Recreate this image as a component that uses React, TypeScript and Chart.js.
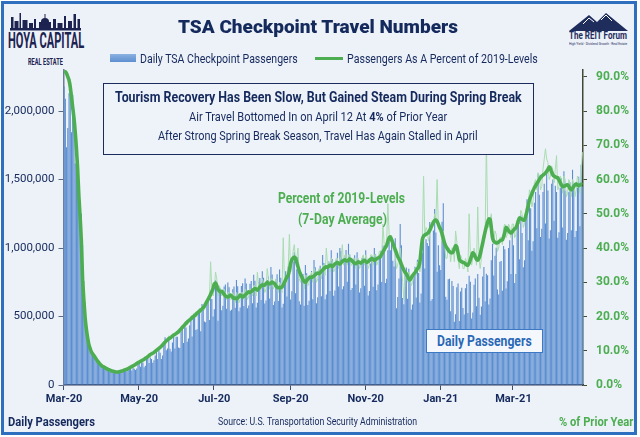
import React, { useEffect, useLayoutEffect, useRef, useState } from 'react';
import { Chart, registerables } from 'chart.js';
Chart.register(...registerables);

// ---------------- DATA ----------------
const START_YEAR = 2020;
const START_MONTH = 2; // March (0-based)
const MONTH_NAMES = ['Jan', 'Feb', 'Mar', 'Apr', 'May', 'Jun', 'Jul', 'Aug', 'Sep', 'Oct', 'Nov', 'Dec'];
const LABELED_MONTHS = [1, 3, 5, 7, 9, 11];

// Daily TSA checkpoint passengers (thousands), Mar 1 2020 ... Apr 26 2021
const DAILY_PASSENGERS_K = [
  2180, 2090, 1736, 1877, 2130, 2199, 1845,
  2120, 1909, 1617, 1703, 1560, 1430, 1209,
  1250, 1020, 760, 600, 480, 400, 330,
  290, 250, 230, 204, 200, 180, 184,
  170, 154, 146, 136, 130, 124, 118,
  122, 108, 97, 104, 95, 109, 94,
  91, 102, 88, 95, 95, 105, 97,
  106, 110, 101, 108, 117, 120, 106,
  128, 119, 109, 120, 154, 171, 134,
  170, 164, 130, 140, 190, 200, 160,
  200, 190, 163, 180, 215, 250, 190,
  253, 235, 190, 215, 318, 348, 254,
  267, 341, 265, 245, 310, 353, 267,
  353, 353, 273, 270, 392, 419, 306,
  442, 420, 316, 339, 436, 470, 354,
  490, 496, 402, 407, 540, 558, 393,
  591, 548, 464, 458, 589, 616, 474,
  634, 628, 500, 554, 764, 719, 470,
  713, 705, 546, 578, 719, 734, 556,
  748, 714, 542, 549, 700, 719, 564,
  767, 721, 538, 566, 722, 743, 577,
  777, 742, 560, 581, 739, 760, 596,
  805, 761, 566, 600, 752, 782, 621,
  831, 783, 595, 617, 766, 793, 631,
  862, 806, 584, 609, 773, 808, 614,
  843, 784, 566, 594, 768, 831, 646,
  864, 830, 625, 685, 901, 969, 670,
  845, 935, 612, 588, 776, 811, 578,
  876, 816, 585, 615, 794, 832, 627,
  912, 860, 596, 640, 844, 870, 648,
  950, 890, 627, 660, 858, 902, 686,
  984, 918, 651, 690, 915, 966, 720,
  1000, 977, 699, 721, 925, 985, 754,
  1032, 953, 693, 709, 919, 948, 734,
  969, 904, 675, 706, 927, 943, 725,
  983, 907, 653, 686, 887, 941, 717,
  1001, 954, 692, 733, 941, 980, 752,
  1019, 976, 745, 776, 984, 1047, 984,
  1047, 908, 865, 1071, 560, 642, 778,
  1176, 1021, 635, 590, 811, 858, 630,
  848, 769, 551, 588, 802, 863, 638,
  915, 818, 603, 668, 964, 1067, 851,
  1065, 1037, 1015, 1191, 616, 628, 1128,
  1285, 1113, 827, 1021, 874, 840, 1192,
  1327, 1063, 645, 622, 772, 776, 538,
  760, 722, 461, 516, 713, 742, 468,
  682, 710, 563, 514, 707, 738, 526,
  797, 754, 486, 529, 732, 778, 575,
  811, 637, 513, 573, 792, 862, 611,
  812, 801, 588, 632, 911, 1032, 800,
  944, 1003, 697, 660, 900, 906, 689,
  1015, 991, 704, 758, 1000, 1056, 810,
  1104, 1020, 745, 810, 1152, 1200, 918,
  1240, 1110, 860, 910, 1240, 1357, 1056,
  1355, 1290, 980, 1050, 1330, 1410, 1145,
  1543, 1390, 1080, 1140, 1410, 1470, 1180,
  1575, 1420, 1070, 1130, 1470, 1500, 1200,
  1455, 1410, 1075, 1115, 1440, 1510, 1150,
  1561, 1420, 1060, 1110, 1410, 1480, 1130,
  1572, 1430, 1080, 1125, 1440, 1520, 1160,
  1608, 1450,
];

// Passengers as a percent of 2019 levels (daily)
const DAILY_PCT = [
  92, 91, 90, 91, 90, 89, 86,
  84, 80, 73, 70, 62, 56, 50,
  44, 36, 28, 22, 17, 14, 12,
  10.5, 9.6, 9.0, 8.5, 8.0, 7.4, 7.0,
  6.5, 6.1, 5.7, 5.4, 5.2, 5.0, 4.8,
  4.6, 4.4, 4.3, 4.1, 4.0, 3.9, 3.8,
  3.7, 3.9, 3.7, 3.9, 4.0, 4.2, 4.3,
  4.5, 4.6, 4.6, 4.9, 5.1, 5.3, 5.5,
  5.8, 5.9, 5.9, 6.4, 6.7, 6.8, 6.9,
  7.4, 7.5, 7.3, 7.7, 8.2, 8.5, 8.5,
  9.2, 9.3, 9.0, 9.4, 10.0, 10.4, 10.2,
  11.0, 11.3, 10.9, 11.5, 12.6, 13.0, 12.7,
  13.3, 14.4, 13.2, 13.5, 14.6, 15.0, 14.5,
  15.6, 15.8, 14.9, 15.4, 17.0, 17.5, 16.6,
  18.4, 18.6, 17.6, 18.0, 19.6, 20.0, 19.1,
  20.8, 21.0, 19.8, 20.2, 22.0, 22.4, 21.0,
  23, 23, 22, 23, 25, 26, 25,
  36, 28, 26, 28, 33, 31, 26,
  29, 28, 26, 27, 28, 27, 25,
  27, 27, 25, 25, 27, 26, 24,
  27, 26, 24, 25, 27, 27, 25,
  28, 27, 25, 26, 28, 28, 26,
  29, 29, 26, 33, 29, 29, 28,
  31, 30, 27, 28, 34, 31, 28,
  31, 31, 28, 29, 31, 30, 27,
  30, 29, 27, 43, 30, 31, 30,
  34, 44, 33, 35, 39, 41, 36,
  37, 40, 31, 30, 32, 31, 28,
  32, 32, 29, 30, 32, 33, 30,
  34, 33, 30, 31, 34, 34, 31,
  35, 35, 32, 40, 35, 36, 33,
  37, 36, 33, 34, 37, 37, 34,
  37, 37, 41, 35, 38, 38, 35,
  38, 38, 35, 35, 37, 37, 34,
  37, 37, 34, 35, 37, 38, 35,
  38, 37, 34, 35, 38, 38, 35,
  38, 38, 35, 36, 39, 39, 37,
  47, 41, 40, 42, 53, 44, 42,
  43, 40, 39, 38, 34, 35, 37,
  40, 36, 30, 25, 31, 32, 30,
  33, 32, 29, 30, 32, 34, 32,
  36, 35, 33, 36, 42, 61, 44,
  46, 45, 42, 44, 46, 48, 47,
  50, 48, 60, 46, 45, 44, 42,
  45, 42, 37, 37, 40, 40, 36,
  40, 40, 36, 45, 42, 37, 34,
  38, 37, 34, 34, 37, 36, 33,
  50, 38, 35, 37, 40, 38, 35,
  52, 37, 34, 37, 41, 44, 43,
  71, 49, 46, 48, 50, 44, 41,
  45, 44, 39, 40, 43, 43, 41,
  46, 47, 43, 44, 47, 46, 43,
  47, 47, 43, 44, 48, 49, 47,
  51, 50, 46, 47, 51, 53, 52,
  57, 56, 52, 54, 59, 60, 57,
  62, 61, 57, 58, 63, 66, 69,
  66, 65, 60, 61, 64, 63, 59,
  63, 67, 57, 58, 61, 60, 56,
  61, 60, 55, 56, 60, 59, 55,
  60, 59, 55, 57, 61, 60, 56,
  62, 68,
];

// Percent of 2019 levels, 7-day average
const AVG7_PCT = [
  91.5, 91.5, 91, 90, 89, 87, 84,
  81, 78, 74, 69, 63, 55, 49,
  42, 31, 25, 20, 16.5, 14, 12,
  10.8, 9.8, 9.2, 8.7, 8.2, 7.6, 7.1,
  6.6, 6.2, 5.8, 5.5, 5.3, 5.1, 4.9,
  4.7, 4.5, 4.4, 4.2, 4.1, 4.0, 3.9,
  3.8, 3.8, 3.8, 3.9, 4.0, 4.1, 4.2,
  4.4, 4.5, 4.6, 4.8, 5.0, 5.2, 5.4,
  5.6, 5.8, 6.0, 6.3, 6.5, 6.7, 6.9,
  7.1, 7.3, 7.5, 7.8, 8.0, 8.3, 8.6,
  8.9, 9.1, 9.3, 9.5, 9.8, 10.1, 10.4,
  10.7, 11.0, 11.3, 11.7, 12.1, 12.5, 12.9,
  13.2, 13.5, 13.7, 14.0, 14.3, 14.6, 14.8,
  15.0, 15.3, 15.6, 16.0, 16.4, 16.8, 17.2,
  17.6, 18.0, 18.4, 18.7, 19.0, 19.3, 19.7,
  20.0, 20.3, 20.6, 21.0, 21.3, 21.6, 21.9,
  22.2, 22.6, 23.1, 23.7, 24.4, 25.0, 25.7,
  26.5, 27.3, 28.2, 29.5, 29.8, 29.0, 27.9,
  27.5, 27.2, 27.4, 27.0, 26.5, 26.0, 25.8,
  25.7, 25.9, 26.3, 26.0, 25.6, 25.3, 25.4,
  25.2, 25.4, 25.8, 26.3, 26.0, 25.7, 25.9,
  26.3, 26.6, 27.0, 27.2, 27.0, 27.3, 27.6,
  27.9, 28.2, 28.0, 27.7, 28.1, 28.6, 29.0,
  29.3, 29.1, 29.2, 29.6, 30.0, 29.7, 29.5,
  29.8, 30.1, 29.8, 29.6, 29.0, 28.6, 28.4,
  28.5, 28.4, 28.6, 29.2, 30.0, 30.8, 31.5,
  32.0, 33.5, 35.5, 36.6, 37.1, 37.4, 37.0,
  35.8, 34.5, 33.3, 32.4, 31.6, 30.8, 30.2,
  30.0, 30.4, 30.9, 31.3, 31.5, 31.4, 31.6,
  31.9, 32.2, 32.6, 32.7, 32.5, 32.8, 33.2,
  33.6, 34.0, 34.3, 34.5, 34.4, 34.7, 35.0,
  34.8, 34.6, 35.0, 35.4, 35.6, 35.8, 35.5,
  35.3, 35.7, 36.1, 36.4, 36.6, 36.3, 36.2,
  36.5, 36.8, 36.6, 36.2, 35.8, 35.6, 35.4,
  35.7, 36.0, 35.8, 35.6, 35.9, 36.2, 36.4,
  36.1, 35.8, 36.0, 36.4, 36.7, 36.9, 36.7,
  36.4, 36.6, 36.9, 37.1, 37.3, 37.6, 38.2,
  38.9, 39.5, 40.2, 40.8, 42.0, 43.0, 43.3,
  42.5, 41.5, 40.5, 39.5, 38.5, 37.5, 36.8,
  36.2, 35.2, 34.3, 33.5, 32.9, 32.5, 31.7,
  31.0, 30.7, 31.3, 31.9, 32.4, 32.8, 33.4,
  34.0, 34.4, 36.0, 39.5, 42.5, 43.5, 43.8,
  44.0, 44.3, 44.6, 45.2, 46.0, 46.8, 47.5,
  48.0, 48.2, 47.8, 47.0, 46.0, 45.4, 44.2,
  42.8, 41.5, 40.6, 40.0, 39.4, 39.0, 38.7,
  38.6, 38.9, 39.8, 40.7, 40.3, 38.5, 36.7,
  36.2, 36.0, 35.8, 35.7, 35.4, 35.1, 35.0,
  35.6, 36.6, 37.7, 38.6, 38.2, 37.4, 36.7,
  36.5, 37.0, 38.2, 39.8, 41.4, 43.2, 44.8,
  46.3, 47.6, 48.5, 48.4, 46.0, 43.0, 42.0,
  41.7, 41.5, 41.5, 41.8, 42.1, 42.3, 42.4,
  43.3, 44.6, 46.0, 45.7, 45.1, 44.6, 44.4,
  44.7, 45.2, 45.6, 45.9, 46.8, 48.0, 48.8,
  48.6, 48.4, 48.2, 48.2, 49.4, 50.8, 52.4,
  54.0, 55.0, 55.9, 56.8, 57.6, 58.2, 58.8,
  59.4, 60.0, 60.6, 61.0, 61.3, 61.6, 61.9,
  62.4, 63.0, 63.7, 63.2, 62.2, 61.4, 61.0,
  60.8, 60.6, 60.5, 59.9, 59.1, 58.4, 57.9,
  58.0, 58.2, 58.4, 58.5, 58.0, 57.3, 57.0,
  57.4, 58.0, 58.5, 58.8, 58.4, 58.2, 58.4,
  58.6, 58.5,
];

const LEFT_MAX_K = 2300;
const LEFT_TICKS_K = [0, 500, 1000, 1500, 2000];
const RIGHT_MAX = 92;
const RIGHT_TICKS = [0, 10, 20, 30, 40, 50, 60, 70, 80, 90];

// Categories: one per day
const CATEGORIES: string[] = DAILY_PASSENGERS_K.map((_, i) => {
  const d = new Date(Date.UTC(START_YEAR, START_MONTH, 1 + i));
  return d.toISOString().slice(0, 10);
});

function tickLabel(i: number): string {
  const c = CATEGORIES[i];
  if (!c) return '';
  const [y, m, d] = c.split('-');
  if (d === '01' && LABELED_MONTHS.includes(+m)) return `${MONTH_NAMES[+m - 1]}-${y.slice(2)}`;
  return '';
}

// ---------------- COLOURS / FONTS ----------------
const NAVY = '#14295c';
const GREEN = '#4dae51';
const FONT = 'Roboto, "Open Sans", sans-serif';

// Text that is horizontally fitted to a target width (condensed look)
function FitText(props: { x: number; cy: number; w: number; size: number; align?: 'left' | 'center' | 'right'; weight?: number; color?: string; children: any }) {
  const { x, cy, w, size, align = 'left', weight = 400, color = NAVY, children } = props;
  const ref = useRef<HTMLSpanElement>(null);
  const [s, setS] = useState(1);
  useLayoutEffect(() => {
    const el = ref.current;
    if (!el) return;
    const nat = el.offsetWidth;
    if (nat > 0) setS(w / nat);
  }, [w, size]);
  const left = align === 'center' ? x - w / 2 : align === 'right' ? x - w : x;
  return (
    <span
      ref={ref}
      style={{
        position: 'absolute', left, top: cy - size * 0.5, whiteSpace: 'nowrap', lineHeight: 1,
        fontFamily: FONT, fontSize: size, fontWeight: weight, color,
        transform: `scaleX(${s})`, transformOrigin: 'left top',
      }}
    >
      {children}
    </span>
  );
}

export default function App() {
  const canvasRef = useRef<HTMLCanvasElement>(null);

  useEffect(() => {
    document.body.style.margin = '0';
    const canvas = canvasRef.current;
    if (!canvas) return;
    const chart = new Chart(canvas, {
      type: 'bar',
      data: {
        labels: CATEGORIES,
        datasets: [
          {
            type: 'line',
            label: 'Passengers As A Percent of 2019-Levels',
            data: AVG7_PCT,
            yAxisID: 'y1',
            borderColor: GREEN,
            borderWidth: 3.6,
            pointRadius: 0,
            tension: 0.2,
            order: 0,
          } as any,
          {
            type: 'line',
            label: 'Daily Percent',
            data: DAILY_PCT,
            yAxisID: 'y1',
            borderColor: '#a9dcb0',
            borderWidth: 1,
            pointRadius: 0,
            tension: 0,
            order: 1,
          } as any,
          {
            type: 'bar',
            label: 'Daily TSA Checkpoint Passengers',
            data: DAILY_PASSENGERS_K,
            yAxisID: 'y',
            backgroundColor: '#5b8ed0',
            borderWidth: 0,
            barPercentage: 0.88,
            categoryPercentage: 1,
            order: 2,
          } as any,
        ],
      },
      options: {
        responsive: false,
        animation: false,
        layout: { padding: { top: 70, left: 0, right: 0, bottom: 0 } },
        plugins: { legend: { display: false }, tooltip: { enabled: false }, title: { display: false } },
        scales: {
          x: {
            type: 'category',
            offset: true,
            grid: {
              display: true, drawOnChartArea: false, drawTicks: true, tickLength: 5, offset: true,
              color: (ctx: any) => (tickLabel(ctx.index) ? '#3d4f6b' : 'rgba(0,0,0,0)'),
            },
            border: { display: true, color: '#2f4063', width: 1.5 },
            ticks: {
              autoSkip: false, maxRotation: 0, minRotation: 0, padding: 3, color: NAVY,
              font: { family: FONT, weight: 'bold', size: 11 },
              callback: (_v: any, i: number) => tickLabel(i),
            },
            afterFit: (s: any) => { s.height = 52; },
          },
          y: {
            position: 'left', min: 0, max: LEFT_MAX_K,
            grid: { drawOnChartArea: false, drawTicks: true, tickLength: 5, color: '#5b6b85' },
            border: { display: true, color: '#6b7c98', width: 1.5 },
            afterBuildTicks: (s: any) => { s.ticks = LEFT_TICKS_K.map((v) => ({ value: v })); },
            ticks: {
              padding: 4, color: NAVY,
              font: { family: FONT, size: 11.5 },
              callback: (v: any) => (Number(v) * 1000).toLocaleString('en-US'),
            },
            afterFit: (s: any) => { s.width = 63.5; },
          },
          y1: {
            position: 'right', min: 0, max: RIGHT_MAX,
            grid: { drawOnChartArea: false, drawTicks: true, tickLength: 4, color: '#3e4a32' },
            border: { display: true, color: '#3e4a32', width: 1.5 },
            afterBuildTicks: (s: any) => { s.ticks = RIGHT_TICKS.map((v) => ({ value: v })); },
            ticks: {
              padding: 9, color: GREEN,
              font: { family: FONT, weight: 'bold', size: 12 },
              callback: (v: any) => Number(v).toFixed(1) + '%',
            },
            afterFit: (s: any) => { s.width = 57; },
          },
        },
      } as any,
    });
    return () => chart.destroy();
  }, []);

  return (
    <div style={{ position: 'absolute', left: 0, top: 0, width: 640, height: 437, background: '#ffffff', overflow: 'hidden' }}>
      <div style={{ position: 'absolute', left: 1, top: 1, width: 636, height: 434, boxSizing: 'border-box', border: '3px solid #2f6fc0', background: '#edf1f8' }} />

      {/* logos */}
      <svg width={640} height={437} style={{ position: 'absolute', left: 0, top: 0 }}>
        <g fill="#1c2350">
          <rect x={10} y={28} width={71} height={2.5} />
          <rect x={11} y={17} width={2.5} height={11} />
          <rect x={14.5} y={21} width={4} height={7} />
          <rect x={19.5} y={13} width={1.5} height={15} />
          <rect x={22.5} y={20} width={5} height={8} />
          <rect x={29} y={23} width={4} height={5} />
          <rect x={34} y={19} width={2} height={9} />
          <rect x={39} y={22} width={12} height={6} />
          <ellipse cx={45} cy={21.5} rx={4} ry={3.5} />
          <rect x={44.5} y={14} width={1} height={6} />
          <rect x={53} y={19} width={3} height={9} />
          <rect x={57.5} y={23} width={5} height={5} />
          <rect x={64} y={16} width={2} height={12} />
          <rect x={68} y={21} width={4} height={7} />
          <rect x={73.5} y={14} width={2.5} height={14} />
          <rect x={77.5} y={19} width={2.5} height={9} />
        </g>
        <polygon points="569,31 589,15 597,22 606,13 628,31" fill="#1f2d5c" />
        <polyline points="583,24 589,18 594,22" fill="none" stroke="#ffffff" strokeWidth={1} />
        <polyline points="601,20 606,15 612,21" fill="none" stroke="#ffffff" strokeWidth={1} />
      </svg>
      <FitText x={8} cy={41} w={76} size={22} weight={700} color="#1c2350">HOYA CAPITAL</FitText>
      <FitText x={28} cy={62.5} w={35} size={9} weight={700} color="#1c2350">REAL ESTATE</FitText>
      <FitText x={598} cy={36} w={58} size={10} weight={700} color="#1f2d5c" align="center">The REIT Forum</FitText>
      <FitText x={598} cy={44} w={58} size={4} weight={400} color="#1f2d5c" align="center">High Yield · Dividend Growth · Real Estate</FitText>

      <canvas ref={canvasRef} width={640} height={437} style={{ position: 'absolute', left: 0, top: 0, width: 640, height: 437 }} />

      {/* title */}
      <FitText x={318} cy={26} w={280} size={19} weight={900} align="center">TSA Checkpoint Travel Numbers</FitText>

      {/* legend */}
      <div style={{ position: 'absolute', left: 110, top: 54, width: 26, height: 8, background: 'linear-gradient(#8bb2e2, #5d8fcf)' }} />
      <FitText x={140} cy={58} w={158} size={13}>Daily TSA Checkpoint Passengers</FitText>
      <div style={{ position: 'absolute', left: 315, top: 56.5, width: 28, height: 3, background: GREEN }} />
      <FitText x={347} cy={58} w={191} size={13}>Passengers As A Percent of 2019-Levels</FitText>

      {/* annotation box */}
      <div style={{ position: 'absolute', left: 103, top: 83, width: 431, height: 72, boxSizing: 'border-box', border: '1.5px solid #1b2c5c', background: '#eef2f9' }} />
      <FitText x={318} cy={97} w={407} size={14} weight={700} align="center">Tourism Recovery Has Been Slow, But Gained Steam During Spring Break</FitText>
      <FitText x={318} cy={116} w={258} size={13} align="center">Air Travel Bottomed In on April 12 At <b>4%</b> of Prior Year</FitText>
      <FitText x={318} cy={135} w={320} size={13} align="center">After Strong Spring Break Season, Travel Has Again Stalled in April</FitText>

      {/* green label */}
      <FitText x={341.5} cy={198} w={127} size={14} weight={700} color={GREEN} align="center">Percent of 2019-Levels</FitText>
      <FitText x={342.5} cy={219} w={89} size={14} weight={700} color={GREEN} align="center">(7-Day Average)</FitText>

      {/* daily passengers box */}
      <div style={{ position: 'absolute', left: 426, top: 329, width: 117, height: 24, boxSizing: 'border-box', border: '1.5px solid #3c78c3', background: '#f4f7fc' }} />
      <FitText x={484.5} cy={341} w={95} size={14} weight={700} color="#2a68b5" align="center">Daily Passengers</FitText>

      {/* bottom texts */}
      <FitText x={8} cy={421} w={87} size={13} weight={700}>Daily Passengers</FitText>
      <FitText x={317} cy={421} w={199} size={11} align="center">Source: U.S. Transportation Security Administration</FitText>
      <FitText x={559} cy={421} w={74} size={13} weight={700} color={GREEN}>% of Prior Year</FitText>
    </div>
  );
}
